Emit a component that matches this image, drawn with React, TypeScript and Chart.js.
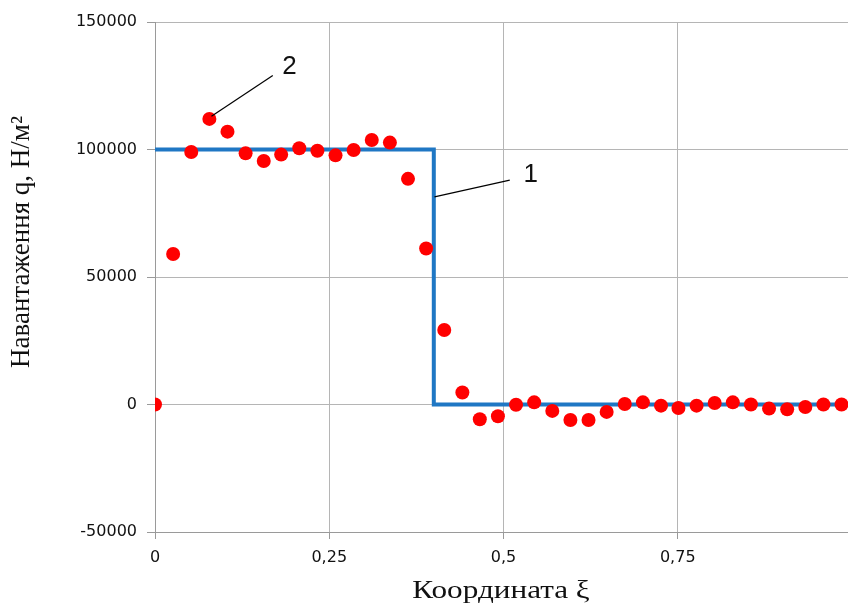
import React, { useEffect, useRef } from "react";
import { Chart, registerables } from "chart.js";

Chart.register(...registerables);

// Exact (analytical) load: step function, label "1"
const exactX = [0, 0.4, 0.4, 1.0];
const exactY = [100000, 100000, 0, 0];

// Identified load: red points, label "2"
const pointX = [
  0, 0.026, 0.052, 0.078, 0.104, 0.13, 0.156, 0.181, 0.207, 0.233,
  0.259, 0.285, 0.311, 0.337, 0.363, 0.389, 0.415, 0.441, 0.466, 0.492,
  0.518, 0.544, 0.57, 0.596, 0.622, 0.648, 0.674, 0.7, 0.726, 0.751,
  0.777, 0.803, 0.829, 0.855, 0.881, 0.907, 0.933, 0.959, 0.985,
];
const pointY = [
  0, 59000, 99000, 112000, 107000, 98500, 95500, 98000, 100500, 99500,
  97700, 99800, 103700, 102700, 88500, 61200, 29200, 4700, -5800, -4600,
  -100, 850, -2500, -6100, -6100, -2900, 200, 850, -450, -1400,
  -450, 600, 850, 0, -1600, -1900, -1000, 0, 0,
];

const xTicks = [0, 0.25, 0.5, 0.75, 1];
const xTickLabels = ["0", "0,25", "0,5", "0,75", "1"];
const yTicks = [-50000, 0, 50000, 100000, 150000];

const xTitle = "Координата ξ";
const yTitle = "Навантаження q, Н/м²";

// Callouts in data units: [label, labelX, labelY, lineFromX, lineFromY, lineToX, lineToY]
const callouts: [string, number, number, number, number, number, number][] = [
  ["2", 0.193, 132500, 0.081, 113000, 0.169, 129000],
  ["1", 0.539, 90000, 0.401, 81400, 0.509, 88000],
];

const SERIF = '"Liberation Serif", "Times New Roman", serif';
const SANS = '"DejaVu Sans", "Liberation Sans", Arial, sans-serif';

const decorPlugin = {
  id: "decor",
  afterDatasetsDraw(chart: any) {
    const { ctx, scales, chartArea } = chart;
    const xs = scales.x;
    const ys = scales.y;
    ctx.save();
    for (const c of callouts) {
      const [label, lx, ly, x1, y1, x2, y2] = c;
      ctx.strokeStyle = "#000000";
      ctx.lineWidth = 1.2;
      ctx.beginPath();
      ctx.moveTo(xs.getPixelForValue(x1), ys.getPixelForValue(y1));
      ctx.lineTo(xs.getPixelForValue(x2), ys.getPixelForValue(y2));
      ctx.stroke();
      ctx.fillStyle = "#111111";
      ctx.font = '26px "Liberation Sans", Arial, sans-serif';
      ctx.textAlign = "center";
      ctx.textBaseline = "middle";
      ctx.fillText(label, xs.getPixelForValue(lx), ys.getPixelForValue(ly));
    }
    ctx.restore();
  },
  afterDraw(chart: any) {
    const { ctx, chartArea } = chart;
    ctx.save();
    ctx.fillStyle = "#111111";
    // x-axis title (slightly wide lettering as in the reference)
    ctx.font = "26px " + SERIF;
    ctx.textAlign = "center";
    ctx.textBaseline = "alphabetic";
    ctx.translate(chartArea.left + 346, chartArea.bottom + 66);
    ctx.scale(1.2, 1);
    ctx.fillText(xTitle, 0, 0);
    ctx.restore();

    ctx.save();
    ctx.fillStyle = "#111111";
    ctx.font = "27px " + SERIF;
    ctx.textAlign = "center";
    ctx.textBaseline = "alphabetic";
    ctx.translate(chartArea.left - 126, chartArea.top + 220);
    ctx.rotate(-Math.PI / 2);
    ctx.fillText(yTitle, 0, 0);
    ctx.restore();
  },
};

export default function App() {
  const ref = useRef<HTMLCanvasElement | null>(null);

  useEffect(() => {
    document.body.style.margin = "0";
    document.body.style.overflow = "hidden";
    const canvas = ref.current;
    if (!canvas) return;
    const chart = new Chart(canvas, {
      type: "scatter",
      data: {
        datasets: [
          {
            label: "2",
            data: pointX.map((x, i) => ({ x, y: pointY[i] })),
            backgroundColor: "#ff0000",
            borderColor: "#ff0000",
            borderWidth: 0,
            pointRadius: 7,
            showLine: false,
            order: 0,
          },
          {
            label: "1",
            data: exactX.map((x, i) => ({ x, y: exactY[i] })),
            borderColor: "#1f77c4",
            backgroundColor: "#1f77c4",
            borderWidth: 4,
            pointRadius: 0,
            showLine: true,
            order: 1,
          },
        ],
      },
      options: {
        responsive: false,
        animation: false,
        devicePixelRatio: 1,
        layout: { padding: { top: 22, right: 28, left: 0, bottom: 0 } },
        plugins: {
          legend: { display: false },
          tooltip: { enabled: false },
        },
        scales: {
          x: {
            type: "linear",
            min: 0,
            max: 1,
            afterBuildTicks: (scale: any) => {
              scale.ticks = xTicks.map((v) => ({ value: v }));
            },
            afterFit: (scale: any) => {
              scale.height = 74;
            },
            ticks: {
              callback: (v: any) => {
                const i = xTicks.indexOf(Number(v));
                return i >= 0 ? xTickLabels[i] : "";
              },
              color: "#111111",
              font: { family: SANS, size: 16 },
              padding: 9,
              maxRotation: 0,
              autoSkip: false,
            },
            grid: {
              color: "#b5b5b5",
              lineWidth: 1,
              tickLength: 7,
              tickColor: "#9a9a9a",
            },
            border: { color: "#9a9a9a", width: 1 },
            title: { display: false },
          },
          y: {
            type: "linear",
            min: -50000,
            max: 150000,
            afterBuildTicks: (scale: any) => {
              scale.ticks = yTicks.map((v) => ({ value: v }));
            },
            afterFit: (scale: any) => {
              scale.width = 155;
            },
            ticks: {
              callback: (v: any) => String(v),
              color: "#111111",
              font: { family: SANS, size: 16 },
              padding: 10,
            },
            grid: {
              color: "#b5b5b5",
              lineWidth: 1,
              tickLength: 8,
              tickColor: "#9a9a9a",
            },
            border: { color: "#9a9a9a", width: 1 },
            title: { display: false },
          },
        },
      },
      plugins: [decorPlugin],
    });
    return () => chart.destroy();
  }, []);

  return (
    <div style={{ width: 848, height: 606, overflow: "hidden", position: "relative" }}>
      <canvas ref={ref} width={880} height={606} style={{ display: "block" }} />
    </div>
  );
}
